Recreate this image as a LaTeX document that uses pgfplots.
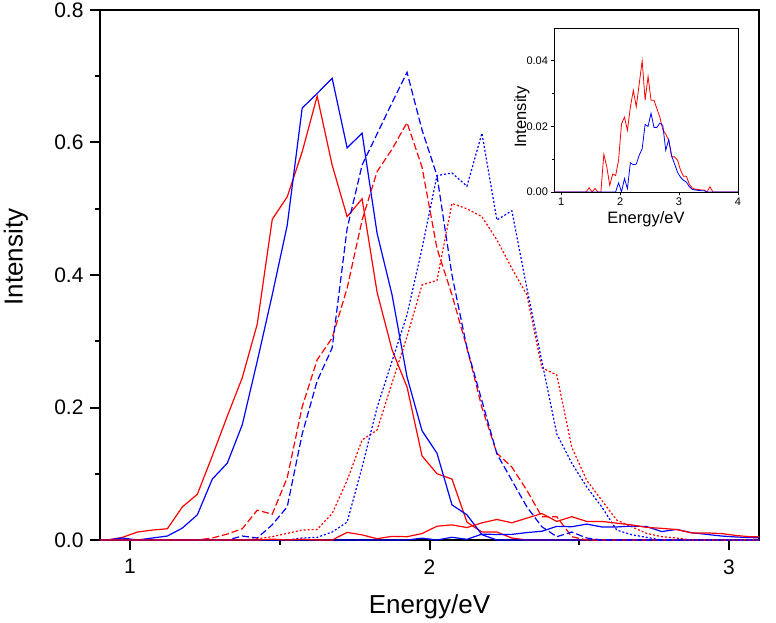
\documentclass[border=0pt]{standalone}
\usepackage{pgfplots}
\usepackage{pgfplotstable}
\pgfplotsset{compat=1.18}
\usepackage{fontspec}
\setmainfont{Liberation Sans}
\definecolor{cred}{RGB}{255,0,0}
\definecolor{cblue}{RGB}{0,0,255}

\pgfplotstableread{
x y
0.875 0
0.975 0
1.025 0
1.425 0
1.475 0.0013
1.525 0
1.575 0.0011
1.625 0
1.675 0
1.725 0.0115
1.775 0.0077
1.825 0.002
1.875 0.0055
1.925 0.005
1.975 0.0097
2.025 0.0208
2.075 0.0228
2.125 0.0188
2.175 0.0259
2.225 0.031
2.275 0.026
2.325 0.033
2.375 0.040
2.425 0.028
2.475 0.0352
2.525 0.028
2.575 0.028
2.625 0.0254
2.675 0.0228
2.725 0.019
2.775 0.0176
2.825 0.0158
2.875 0.0107
2.925 0.0107
2.975 0.0097
3.025 0.0067
3.075 0.0048
3.125 0.0048
3.175 0.0023
3.225 0.0012
3.275 0.0008
3.325 0.0008
3.375 0.0006
3.425 0.0006
3.475 0
3.525 0.0016
3.575 0
4.0 0
}\redlow

\pgfplotstableread{
x y
0.875 0
0.975 0
1.925 0
1.975 0.0028
2.025 0
2.075 0.0041
2.125 0.001
2.175 0.0089
2.225 0.0083
2.275 0.0085
2.325 0.0112
2.375 0.0132
2.425 0.0206
2.475 0.020
2.525 0.024
2.575 0.0197
2.625 0.0197
2.675 0.021
2.725 0.0203
2.775 0.0127
2.825 0.016
2.875 0.011
2.925 0.0085
2.975 0.006
3.025 0.0045
3.075 0.0036
3.125 0.003
3.175 0.0016
3.225 0.0008
3.275 0.0006
3.325 0.0005
3.375 0.0004
3.425 0.0004
3.475 0
4.0 0
}\bluelow

\begin{document}
\begin{tikzpicture}
\path[use as bounding box] (-100pt,-83pt) rectangle (676pt,540pt);
\begin{axis}[
  at={(0pt,0pt)}, anchor=south west,
  scale only axis, width=659pt, height=530pt,
  xmin=0.9, xmax=3.1, ymin=0, ymax=0.8,
  axis line style={line width=2pt},
  xtick={1,2,3}, minor xtick={1.5,2.5},
  ytick={0,0.2,0.4,0.6,0.8}, minor ytick={0.1,0.3,0.5,0.7},
  xtick pos=bottom, ytick pos=left, tick align=outside,
  major tick length=10pt, minor tick length=5pt,
  major tick style={line width=2pt, black},
  minor tick style={line width=2pt, black},
  /pgf/number format/assume math mode=true,
  ticklabel style={font=\fontsize{21}{21}\selectfont},
  xticklabel style={yshift=-6pt},
  yticklabel style={xshift=-3pt, /pgf/number format/fixed, /pgf/number format/fixed zerofill, /pgf/number format/precision=1},
  label style={font=\fontsize{26}{26}\selectfont},
  xlabel={Energy/eV},
  ylabel={Intensity},
  xlabel style={at={(axis description cs:0.5,-0.1396)}, anchor=base},
  ylabel style={at={(axis description cs:-0.1275,0.534)}, anchor=center},
  every axis plot/.append style={line width=1.2pt},
]
% red solid
\addplot[cred] table {
0.875 0
0.925 0
0.975 0.004
1.025 0.012
1.075 0.015
1.125 0.017
1.175 0.050
1.225 0.069
1.275 0.127
1.325 0.187
1.375 0.245
1.425 0.326
1.475 0.484
1.525 0.518
1.575 0.586
1.625 0.670
1.675 0.566
1.725 0.488
1.775 0.515
1.825 0.374
1.875 0.287
1.925 0.231
1.975 0.127
2.025 0.100
2.075 0.092
2.125 0.027
2.175 0.012
2.225 0.012
2.275 0.003
2.325 0
3.125 0
};
% blue solid
\addplot[cblue] table {
0.875 0
0.925 0
0.975 0.003
1.025 0
1.075 0.003
1.125 0.006
1.175 0.018
1.225 0.038
1.275 0.092
1.325 0.116
1.375 0.174
1.425 0.27
1.475 0.37
1.525 0.475
1.575 0.652
1.625 0.674
1.675 0.697
1.725 0.592
1.775 0.614
1.825 0.463
1.875 0.37
1.925 0.246
1.975 0.165
2.025 0.131
2.075 0.053
2.125 0.038
2.175 0.008
2.225 0
3.125 0
};
% red dashed
\addplot[cred, dash pattern=on 7pt off 3pt] table {
0.875 0
1.225 0
1.275 0.003
1.325 0.009
1.375 0.017
1.425 0.045
1.475 0.039
1.525 0.094
1.575 0.201
1.625 0.272
1.675 0.305
1.725 0.38
1.775 0.483
1.825 0.556
1.875 0.59
1.925 0.63
1.975 0.563
2.025 0.44
2.075 0.37
2.125 0.29
2.175 0.20
2.225 0.131
2.275 0.11
2.325 0.075
2.375 0.035
2.425 0.035
2.475 0.005
2.525 0
3.125 0
};
% blue dashed
\addplot[cblue, dash pattern=on 7pt off 3pt] table {
0.875 0
1.325 0
1.375 0.006
1.425 0.003
1.475 0.023
1.525 0.05
1.575 0.16
1.625 0.24
1.675 0.29
1.725 0.47
1.775 0.566
1.825 0.613
1.875 0.66
1.925 0.706
1.975 0.619
2.025 0.55
2.075 0.40
2.125 0.29
2.175 0.21
2.225 0.13
2.275 0.09
2.325 0.05
2.375 0.02
2.425 0.005
2.475 0.012
2.525 0.003
2.575 0
3.125 0
};
% red dotted
\addplot[cred, dash pattern=on 2pt off 2pt] table {
0.875 0
1.375 0
1.425 0.002
1.475 0.005
1.525 0.01
1.575 0.015
1.625 0.016
1.675 0.04
1.725 0.09
1.775 0.151
1.825 0.166
1.875 0.237
1.925 0.307
1.975 0.385
2.025 0.392
2.075 0.508
2.125 0.50
2.175 0.488
2.225 0.453
2.275 0.41
2.325 0.37
2.375 0.26
2.425 0.249
2.475 0.14
2.525 0.09
2.575 0.06
2.625 0.03
2.675 0.02
2.725 0.01
2.775 0.005
2.825 0.003
2.875 0
3.125 0
};
% blue dotted
\addplot[cblue, dash pattern=on 2pt off 2pt] table {
0.875 0
1.525 0
1.575 0.003
1.625 0.004
1.675 0.012
1.725 0.027
1.775 0.11
1.825 0.20
1.875 0.27
1.925 0.34
1.975 0.44
2.025 0.55
2.075 0.554
2.125 0.534
2.175 0.614
2.225 0.483
2.275 0.497
2.325 0.38
2.375 0.27
2.425 0.16
2.475 0.116
2.525 0.08
2.575 0.05
2.625 0.015
2.675 0.008
2.725 0.004
2.775 0
3.125 0
};
% low curves
\addplot[cblue] table {\bluelow};
\addplot[cred] table {\redlow};
\end{axis}

\begin{axis}[
  at={(454pt,348pt)}, anchor=south west,
  scale only axis, width=184pt, height=164pt,
  xmin=0.88, xmax=4, ymin=0, ymax=0.05,
  scaled y ticks=false, scaled x ticks=false,
  axis background/.style={fill=white},
  axis line style={line width=0.8pt},
  xtick={1,2,3,4},
  ytick={0,0.02,0.04}, minor ytick={0.01,0.03},
  xtick pos=bottom, ytick pos=left, tick align=outside,
  major tick length=3.5pt, minor tick length=2pt,
  major tick style={line width=0.8pt, black},
  minor tick style={line width=0.8pt, black},
  /pgf/number format/assume math mode=true,
  ticklabel style={font=\fontsize{11}{11}\selectfont},
  xticklabel style={yshift=1pt},
  yticklabel style={xshift=1pt, /pgf/number format/fixed, /pgf/number format/fixed zerofill, /pgf/number format/precision=2},
  label style={font=\fontsize{16.5}{16.5}\selectfont},
  xlabel={Energy/eV},
  ylabel={Intensity},
  xlabel style={at={(axis description cs:0.5,-0.195)}, anchor=base},
  ylabel style={at={(axis description cs:-0.175,0.457)}, anchor=center},
  every axis plot/.append style={line width=0.8pt},
]
\addplot[cred] table {\redlow};
\addplot[cblue] table {\bluelow};
\end{axis}
\end{tikzpicture}
\end{document}
